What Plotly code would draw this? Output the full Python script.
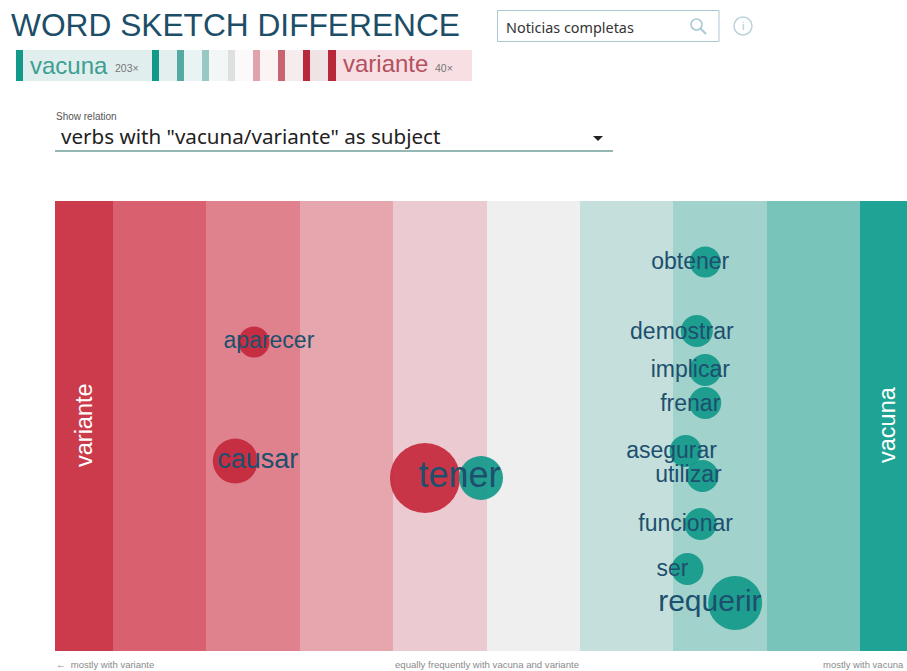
import plotly.graph_objects as go

# Data
band_edges = [-5.12, -4.5, -3.5, -2.5, -1.5, -0.5, 0.5, 1.5, 2.5, 3.5, 4.0]
band_colors = ["#cb3b4b", "#d8606f", "#df828d", "#e5a6ad", "#ebcbd1",
               "#efefef", "#c5e0dc", "#a1d2cb", "#78c3ba", "#1fa394"]

red_words = ["aparecer", "causar", "tener"]
red_score = [-2.99, -3.19, -1.16]
red_rank = [309, 190, 173]
red_size = [31, 45, 70]

teal_words = ["obtener", "demostrar", "implicar", "frenar", "asegurar", "utilizar",
              "funcionar", "ser", "requerir", "tener"]
teal_score = [1.84, 1.75, 1.84, 1.84, 1.63, 1.81, 1.79, 1.65, 2.16, -0.56]
teal_rank = [389, 320, 281, 248, 200, 175, 127, 82, 48, 173]
teal_size = [31, 32, 32, 32, 32, 32, 32, 32, 54, 44]

label_words = ["aparecer", "causar", "tener", "obtener", "demostrar", "implicar", "frenar",
               "asegurar", "utilizar", "funcionar", "ser", "requerir"]
label_score = [-2.83, -2.95, -0.79, 1.68, 1.59, 1.68, 1.68, 1.48, 1.66, 1.63, 1.49, 1.89]
label_rank = [309, 190, 173, 388, 318, 280, 246, 199, 175, 126, 81, 48]
label_font = [23, 27, 36, 23, 23, 23, 23, 23, 23, 23, 23, 30]

W, H = 907, 671
INK = "#1d4f6e"
widths = [b - a for a, b in zip(band_edges, band_edges[1:])]
centers = [(a + b) / 2 for a, b in zip(band_edges, band_edges[1:])]

fig = go.Figure()
fig.add_bar(x=centers, y=[450] * len(centers), width=widths,
            marker=dict(color=band_colors, line=dict(width=0)), hoverinfo="skip")
fig.add_scatter(x=red_score, y=red_rank, mode="markers", text=red_words,
                marker=dict(size=red_size, color="#c4293b", opacity=0.93, line=dict(width=0)))
fig.add_scatter(x=teal_score, y=teal_rank, mode="markers", text=teal_words,
                marker=dict(size=teal_size, color="#11998a", opacity=0.92, line=dict(width=0)))
fig.add_scatter(x=label_score, y=label_rank, mode="text", text=label_words,
                textposition="middle center",
                textfont=dict(family="Liberation Sans", size=label_font, color=INK))


def px(x):
    return x / W


def py(y):
    return 1 - y / H


def note(text, x, y, size, color, family="Liberation Sans", anchor="left", angle=0):
    fig.add_annotation(text=text, xref="paper", yref="paper", x=px(x), y=py(y), showarrow=False,
                       xanchor=anchor, yanchor="middle", textangle=angle, borderpad=0,
                       font=dict(size=size, color=color, family=family))


def rect(x0, y0, x1, y1, fill, line=None):
    fig.add_shape(type="rect", xref="paper", yref="paper", x0=px(x0), x1=px(x1), y0=py(y0), y1=py(y1),
                  fillcolor=fill, line=dict(width=1 if line else 0, color=line or fill), layer="below")


# header
note("WORD SKETCH DIFFERENCE", 10, 25, 31.7, "#1c4e68")
rect(23, 50, 152, 81, "#e0eeee")
rect(159, 50, 177, 81, "#e3efef")
rect(184, 50, 202, 81, "#eaf3f3")
rect(209, 50, 228, 81, "#f3f6f6")
rect(235, 50, 253, 81, "#fbf9f9")
rect(260, 50, 278, 81, "#fbf3f4")
rect(285, 50, 303, 81, "#f6ecee")
rect(310, 50, 328, 81, "#f0e3e5")
rect(336, 50, 472, 81, "#f7dfe3")
for x0, x1, c in [(16, 23, "#11998a"), (152, 159, "#11998a"), (177, 184, "#55aaa2"),
                  (202, 209, "#98c8c3"), (228, 235, "#dedfdf"), (253, 260, "#e0a3ac"),
                  (278, 285, "#c7646f"), (303, 310, "#b8283a"), (328, 336, "#b8283a")]:
    rect(x0, 50, x1, 81, c)
note("vacuna", 29, 65, 24, "#3d9e92")
note("203×", 114, 68, 10.5, "#777777")
note("variante", 342, 64, 24, "#b5505e")
note("40×", 434, 68, 10.5, "#777777")

# search box
rect(497.5, 10.5, 719, 41.5, "#ffffff", "#a9c9d3")
note("Noticias completas", 505, 27, 14.4, "#333333", "Noto Sans")
fig.add_shape(type="circle", xref="paper", yref="paper", x0=px(691), x1=px(702), y0=py(19), y1=py(30),
              line=dict(color="#a9c9d3", width=1.6))
fig.add_shape(type="line", xref="paper", yref="paper", x0=px(700), x1=px(706), y0=py(28), y1=py(34),
              line=dict(color="#a9c9d3", width=2))
fig.add_shape(type="circle", xref="paper", yref="paper", x0=px(734), x1=px(752), y0=py(17), y1=py(35),
              line=dict(color="#bcd3da", width=1.5))
note("i", 743, 26, 11, "#a9c9d3", anchor="center")

# relation selector
note("Show relation", 55, 117, 10, "#555555")
note('verbs with "vacuna/variante" as subject', 60, 136, 20.6, "#222222", "Noto Sans")
fig.add_shape(type="line", xref="paper", yref="paper", x0=px(55), x1=px(613), y0=py(151), y1=py(151),
              line=dict(color="#2f6f6a", width=1.2))
fig.add_shape(type="path", xref="paper", yref="paper", fillcolor="#222222", line=dict(width=0),
              path=f"M {px(593)} {py(136)} L {px(603)} {py(136)} L {px(598)} {py(141)} Z")

# band end captions
note("variante", 84, 425, 23.5, "#ffffff", anchor="center", angle=-90)
note("vacuna", 887, 425, 23.5, "#ffffff", anchor="center", angle=-90)

# footer
note("←  mostly with variante", 55, 664, 9.5, "#8a8a8a")
note("equally frequently with vacuna and variante", 487, 664, 9.6, "#8a8a8a", anchor="center")
note("mostly with vacuna", 905, 664, 9.5, "#8a8a8a", anchor="right")

fig.update_layout(
    width=W, height=H, margin=dict(l=0, r=0, t=0, b=0), showlegend=False,
    paper_bgcolor="#ffffff", plot_bgcolor="#ffffff", bargap=0, hovermode="closest",
    xaxis=dict(domain=[55 / W, 1], range=[band_edges[0], band_edges[-1]], visible=False, fixedrange=True),
    yaxis=dict(domain=[1 - 651 / H, 1 - 201 / H], range=[0, 450], visible=False, fixedrange=True),
)
fig.write_html("out.html", config=dict(displayModeBar=False),
               post_script="document.body.style.margin='0';document.body.style.overflow='hidden';")
